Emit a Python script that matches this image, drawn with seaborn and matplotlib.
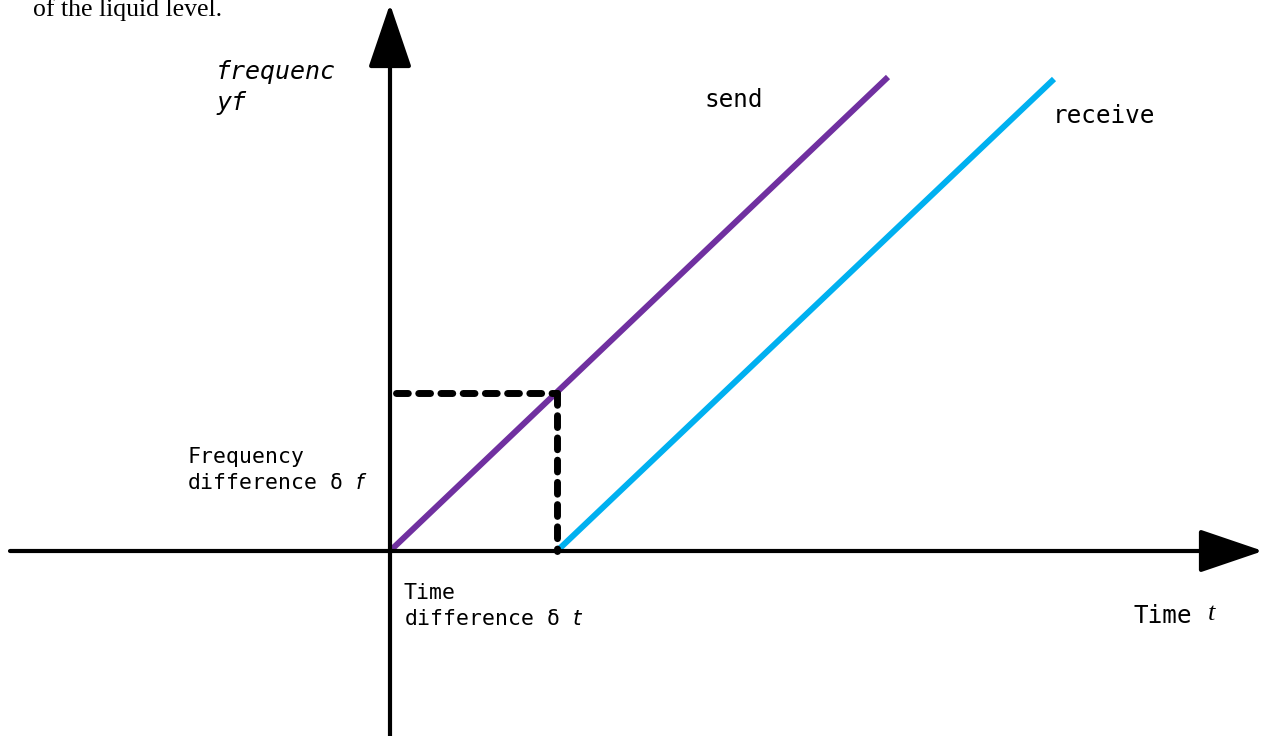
import numpy as np
import pandas as pd
import matplotlib
matplotlib.use("Agg")
import matplotlib.pyplot as plt
import seaborn as sns

sns.set_style("white")
plt.rcParams['font.family'] = ['DejaVu Sans Mono', 'DejaVu Sans']
plt.rcParams['text.color'] = 'black'
plt.rcParams['mathtext.fontset'] = 'dejavusans'

# chart values (time / frequency units)
send_t = [0.0, 9.96]
send_f = [0.0, 9.48]
recv_t = [3.34, 13.28]
recv_f = [0.0, 9.44]
delta_t = 3.34
delta_f = 3.16
series_names = ["send", "receive"]
series_colors = ["#7030A0", "#00B0F0"]

df = pd.DataFrame({
    "t": send_t + recv_t,
    "f": send_f + recv_f,
    "signal": [series_names[0]] * 2 + [series_names[1]] * 2,
})

fig = plt.figure(figsize=(12.67, 7.36), dpi=100)
ax = fig.add_axes([0, 0, 1, 1])
ax.set_xlim(-7.8, 17.54)
ax.set_ylim(-3.7, 11.02)

# axes with arrow heads
arrow = dict(arrowstyle="-|>,head_length=2.0,head_width=0.68", lw=3.0,
             color="black", mutation_scale=20, shrinkA=0, shrinkB=0)
ax.annotate("", xy=(17.46, 0), xytext=(-7.6, 0), arrowprops=arrow)
ax.annotate("", xy=(0, 10.94), xytext=(0, -3.8), arrowprops=arrow)

sns.lineplot(data=df, x="t", y="f", hue="signal", palette=series_colors,
             lw=4.3, legend=False, ax=ax, units="signal", estimator=None,
             solid_capstyle="butt")

# dashed guides
dash = (0, (1.7, 1.5))
ax.plot([0.12, delta_t], [delta_f, delta_f], color="black", lw=5.0,
        ls=dash, dash_capstyle="round")
ax.plot([delta_t, delta_t], [delta_f, 0], color="black", lw=5.0,
        ls=dash, dash_capstyle="round")

ax.axis("off")

W, H = 1267, 736
def px(x, y):
    return x / W, 1 - y / H

fig.text(*px(33, 16), "of the liquid level.", family="Liberation Serif",
         fontsize=18.5, va="baseline", ha="left")
fig.text(*px(216, 60), "frequenc\nyf", fontsize=18, style="italic",
         va="top", ha="left", linespacing=1.35)
fig.text(*px(704, 88), "send", fontsize=17.5, va="top", ha="left")
fig.text(*px(1053, 104), "receive", fontsize=17.5, va="top", ha="left")
fig.text(*px(187, 447), "Frequency\ndifference δ $\\mathit{f}$", fontsize=15.5,
         va="top", ha="left", linespacing=1.4)
fig.text(*px(404, 583), "Time\ndifference δ $\\mathit{t}$", fontsize=15.5,
         va="top", ha="left", linespacing=1.4)
fig.text(*px(1133, 604), "Time", fontsize=17.5, va="top", ha="left")
fig.text(*px(1208, 603), "t", fontsize=19, style="italic",
         family="Liberation Serif", va="top", ha="left")

fig.savefig("out.png", dpi=100)
